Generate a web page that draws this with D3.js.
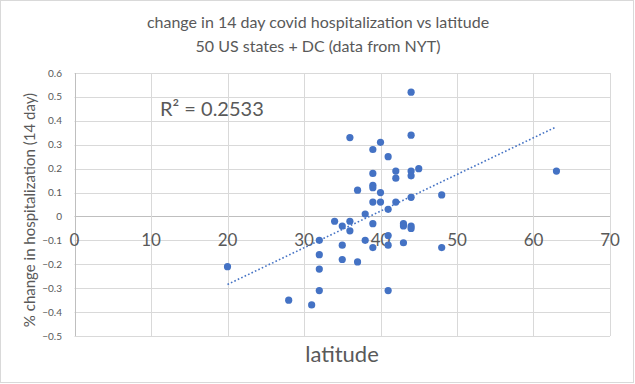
<!DOCTYPE html>
<html lang="en">
<head>
<meta charset="utf-8">
<script src="https://cdn.jsdelivr.net/npm/d3@7"></script>
<style>
  body { margin: 0; background: #fff; }
  text { font-family: Lato, "Open Sans", sans-serif; fill: #595959; }
</style>
</head>
<body>
<script>
// latitude of each state + DC
var latitude = [20, 28, 31, 32, 32, 32, 32, 34, 35, 35, 35, 36, 36, 36, 37, 37, 38, 38,
                39, 39, 39, 39, 39, 39, 39, 40, 40, 40, 41, 41, 41, 41, 41, 42, 42, 42,
                43, 43, 43, 44, 44, 44, 44, 44, 44, 44, 45, 48, 48, 63];
// % change in 14 day hospitalization
var change = [-0.21, -0.35, -0.37, -0.10, -0.16, -0.22, -0.31, -0.02, -0.04, -0.12, -0.18, 0.33, -0.02, -0.06, 0.11, -0.19, 0.01, -0.10,
              0.28, 0.18, 0.13, 0.12, 0.06, -0.03, -0.13, 0.31, 0.10, 0.06, 0.25, 0.03, -0.08, -0.12, -0.31, 0.19, 0.16, 0.06,
              -0.03, -0.04, -0.11, 0.52, 0.34, 0.19, 0.17, 0.08, -0.04, -0.05, 0.20, 0.09, -0.13, 0.19];
var xTicks = [0, 10, 20, 30, 40, 50, 60, 70];
var yTicks = [0.6, 0.5, 0.4, 0.3, 0.2, 0.1, 0, -0.1, -0.2, -0.3, -0.4, -0.5];
var r2Label = "R\u00B2 = 0.2533";

var width = 635, height = 384;
var svg = d3.select("body").append("svg")
    .attr("width", width)
    .attr("height", height);

// chart border
svg.append("rect")
    .attr("x", 0.5).attr("y", 0.5)
    .attr("width", 633).attr("height", 382)
    .attr("fill", "#fff")
    .attr("stroke", "#d9d9d9");

var x = d3.scaleLinear().domain([0, 70]).range([74.5, 610]);
var y = d3.scaleLinear().domain([-0.5, 0.6]).range([336, 73]);

// grid
svg.append("g").selectAll("line").data(yTicks).enter().append("line")
    .attr("x1", x(0)).attr("x2", x(70))
    .attr("y1", function (d) { return Math.round(y(d)) + 0.5; })
    .attr("y2", function (d) { return Math.round(y(d)) + 0.5; })
    .attr("stroke", function (d) { return d === 0 ? "#bfbfbf" : "#d9d9d9"; });

svg.append("g").selectAll("line").data(xTicks).enter().append("line")
    .attr("y1", y(-0.5)).attr("y2", y(0.6))
    .attr("x1", function (d) { return Math.round(x(d)) + 0.5; })
    .attr("x2", function (d) { return Math.round(x(d)) + 0.5; })
    .attr("stroke", function (d) { return d === 0 ? "#bfbfbf" : "#d9d9d9"; });

// y tick labels
svg.append("g").selectAll("text").data(yTicks).enter().append("text")
    .attr("x", 62)
    .attr("y", function (d) { return y(d) + 3.5; })
    .attr("text-anchor", "end")
    .style("font-size", "10px")
    .text(function (d) { return d === 0 ? "0" : d3.format(".1f")(d); });

// x tick labels sit next to the zero line
svg.append("g").selectAll("text").data(xTicks).enter().append("text")
    .attr("x", function (d) { return x(d); })
    .attr("y", y(0) + 30)
    .attr("text-anchor", "middle")
    .style("font-size", "17px")
    .text(function (d) { return d; });

// titles
svg.append("text").attr("x", 318).attr("y", 28)
    .attr("text-anchor", "middle").style("font-size", "16px")
    .text("change in 14 day covid hospitalization vs latitude");
svg.append("text").attr("x", 318).attr("y", 52)
    .attr("text-anchor", "middle").style("font-size", "16px")
    .text("50 US states + DC (data from NYT)");

svg.append("text").attr("x", 342).attr("y", 362)
    .attr("text-anchor", "middle").style("font-size", "22px")
    .text("latitude");

svg.append("text")
    .attr("transform", "translate(35,210) rotate(-90)")
    .attr("text-anchor", "middle").style("font-size", "15px")
    .text("% change in hospitalization (14 day)");

// linear trendline (least squares)
var pts = latitude.map(function (d, i) { return [d, change[i]]; });
var mx = d3.mean(latitude), my = d3.mean(change);
var sxy = d3.sum(pts, function (p) { return (p[0] - mx) * (p[1] - my); });
var sxx = d3.sum(latitude, function (v) { return (v - mx) * (v - mx); });
var slope = sxy / sxx, icept = my - slope * mx;
var xr = d3.extent(latitude);

svg.append("line")
    .attr("x1", x(xr[0])).attr("y1", y(icept + slope * xr[0]))
    .attr("x2", x(xr[1])).attr("y2", y(icept + slope * xr[1]))
    .attr("stroke", "#4472c4")
    .attr("stroke-width", 1.6)
    .attr("stroke-dasharray", "1.6,2.2");

svg.append("text").attr("x", 160).attr("y", 116)
    .style("font-size", "20px")
    .text(r2Label);

// points
svg.append("g").selectAll("circle").data(pts).enter().append("circle")
    .attr("cx", function (p) { return x(p[0]); })
    .attr("cy", function (p) { return y(p[1]); })
    .attr("r", 3.6)
    .attr("fill", "#4472c4");
</script>
</body>
</html>
